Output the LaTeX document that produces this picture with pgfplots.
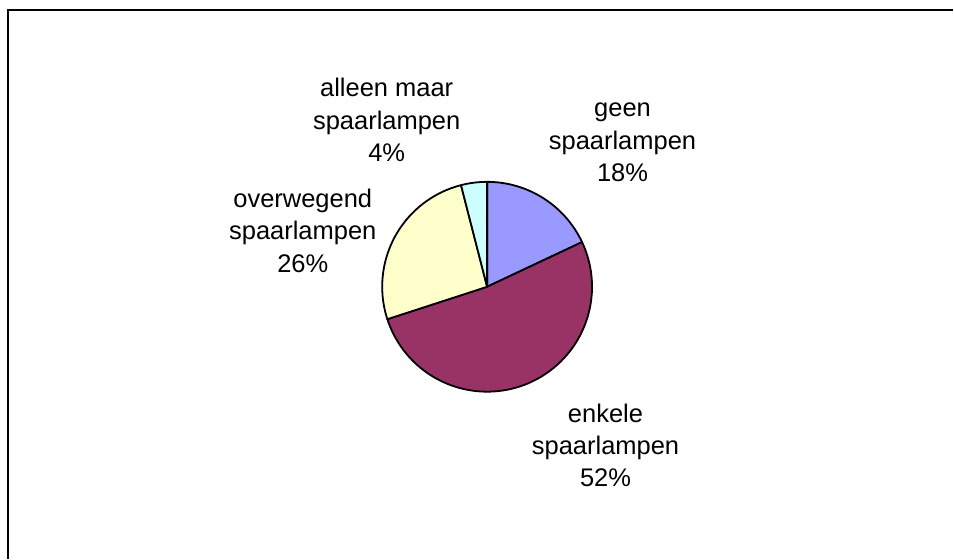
\documentclass[border=0pt]{standalone}
\usepackage{pgfplots}
\pgfplotsset{compat=1.18}
\usepackage{fontspec}
\setmainfont{Liberation Sans}
\definecolor{cgeen}{HTML}{9999FF}
\definecolor{cenkele}{HTML}{993366}
\definecolor{cover}{HTML}{FFFFCC}
\definecolor{calleen}{HTML}{CCFFFF}
% slice: start and end as cumulative percentages (shares 18, 52, 26, 4)
\newcommand\slice[3]{%
  \addplot[fill=#3, draw=black, line width=1.8bp, line join=round, domain=#1:#2, samples=80, variable=\t]
    ({487.5+105*cos(90-3.6*\t)}, {272+105*sin(90-3.6*\t)}) -- (axis cs:487.5,272) -- cycle;%
}
\begin{document}
\begin{tikzpicture}
\begin{axis}[
  scale only axis, width=954bp, height=559bp,
  xmin=0, xmax=954, ymin=0, ymax=559,
  hide axis, clip=false,
]
\path (axis cs:0,0) rectangle (axis cs:954,559);
\draw[line width=1.5bp] (axis cs:8,0) -- (axis cs:8,549) -- (axis cs:954,549);
\slice{0}{18}{cgeen}
\slice{18}{70}{cenkele}
\slice{70}{96}{cover}
\slice{96}{100}{calleen}
\tikzset{lbl/.style={anchor=base, font=\fontsize{25.6}{30}\selectfont, inner sep=0pt}}
% geen
\node[lbl] at (axis cs:623,442) {geen};
\node[lbl] at (axis cs:623,409.5) {spaarlampen};
\node[lbl] at (axis cs:623,377) {18\%};
% enkele
\node[lbl] at (axis cs:606,136) {enkele};
\node[lbl] at (axis cs:606,104) {spaarlampen};
\node[lbl] at (axis cs:606,72) {52\%};
% overwegend
\node[lbl] at (axis cs:303,351) {overwegend};
\node[lbl] at (axis cs:303,319) {spaarlampen};
\node[lbl] at (axis cs:303,286.5) {26\%};
% alleen maar
\node[lbl] at (axis cs:387,462.5) {alleen maar};
\node[lbl] at (axis cs:387,429) {spaarlampen};
\node[lbl] at (axis cs:387,397.5) {4\%};
\end{axis}
\end{tikzpicture}
\end{document}
